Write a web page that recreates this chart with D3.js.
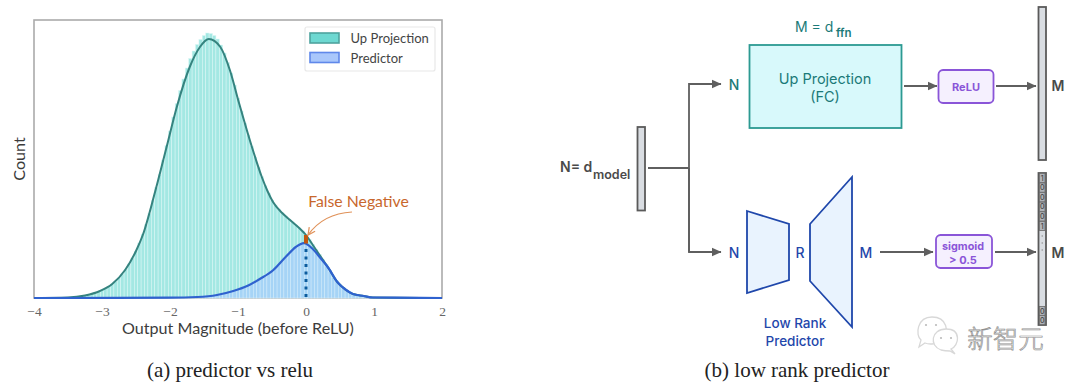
<!DOCTYPE html>
<html>
<head>
<meta charset="utf-8">
<script src="https://cdn.jsdelivr.net/npm/d3@7"></script>
<style>
html,body{margin:0;padding:0;background:#fff;overflow:hidden;}
svg{display:block;}
</style>
</head>
<body>
<script>
// histogram bins (centres, width 0.05) and counts
let binStarts = [-3.5,-3.45,-3.4,-3.35,-3.3,-3.25,-3.2,-3.15,-3.1,-3.05,-3,-2.95,-2.9,-2.85,-2.8,-2.75,-2.7,-2.65,-2.6,-2.55,-2.5,-2.45,-2.4,-2.35,-2.3,-2.25,-2.2,-2.15,-2.1,-2.05,-2,-1.95,-1.9,-1.85,-1.8,-1.75,-1.7,-1.65,-1.6,-1.55,-1.5,-1.45,-1.4,-1.35,-1.3,-1.25,-1.2,-1.15,-1.1,-1.05,-1,-0.95,-0.9,-0.85,-0.8,-0.75,-0.7,-0.65,-0.6,-0.55,-0.5,-0.45,-0.4,-0.35,-0.3,-0.25,-0.2,-0.15,-0.1,-0.05,0,0.05,0.1,0.15,0.2,0.25,0.3,0.35,0.4,0.45,0.5,0.55,0.6,0.65,0.7,0.75,0.8,0.85,0.9,0.95,1,1.05,1.1,1.15,1.2,1.25,1.3,1.35,1.4,1.45,1.5];
let upCounts = [5,8,10,14,20,28,35,44,55,66,80,98,118,140,168,200,240,288,340,400,470,550,640,735,845,975,1105,1235,1380,1525,1670,1810,1945,2075,2190,2300,2395,2470,2535,2585,2625,2650,2645,2625,2590,2530,2450,2355,2250,2130,2000,1870,1750,1630,1520,1410,1310,1215,1125,1050,980,930,890,850,820,790,760,730,700,670,630,585,535,485,435,385,335,278,220,172,135,105,80,60,45,34,26,20,15,12,9,7,6,5,4,3,3,2,2,1,1];
let predStarts = [-2,-1.95,-1.9,-1.85,-1.8,-1.75,-1.7,-1.65,-1.6,-1.55,-1.5,-1.45,-1.4,-1.35,-1.3,-1.25,-1.2,-1.15,-1.1,-1.05,-1,-0.95,-0.9,-0.85,-0.8,-0.75,-0.7,-0.65,-0.6,-0.55,-0.5,-0.45,-0.4,-0.35,-0.3,-0.25,-0.2,-0.15,-0.1,-0.05,0,0.05,0.1,0.15,0.2,0.25,0.3,0.35,0.4,0.45,0.5,0.55,0.6,0.65,0.7,0.75,0.8,0.85,0.9,0.95,1,1.05,1.1,1.15,1.2,1.25,1.3,1.35,1.4,1.45,1.5];
let predCounts = [3,3,4,4,5,6,7,8,10,12,15,18,22,26,30,37,45,54,65,75,85,97,110,127,145,165,185,207,230,252,275,302,330,370,410,450,490,515,535,548,545,525,490,450,410,370,320,265,205,165,130,102,78,58,44,33,25,19,14,11,9,7,6,5,4,3,3,2,2,1,1];

// density curves
let curveX = [-4,-3.5,-3.25,-3.03,-2.85,-2.66,-2.5,-2.4,-2.22,-2.05,-1.9,-1.71,-1.56,-1.43,-1.26,-1.12,-0.985,-0.8,-0.65,-0.56,-0.485,-0.35,-0.235,-0.1,0,0.1,0.2,0.33,0.46,0.58,0.69,0.85,0.98,1.3,2];
let upCurve = [0,5,25,70,140,280,470,630,1060,1510,1910,2310,2510,2590,2510,2280,1950,1520,1210,1060,960,850,780,700,630,530,430,300,160,85,40,20,5,3,0];
let predX = [-4,-2,-1.6,-1.31,-1.07,-0.85,-0.68,-0.48,-0.3,-0.15,-0.03,0.1,0.2,0.33,0.46,0.58,0.69,0.85,0.98,1.3,2];
let predCurve = [0,3,10,30,70,125,190,280,410,510,548,490,410,300,160,85,40,20,5,3,0];

let xTicks = [-4,-3,-2,-1,0,1,2];
let legendNames = ["Up Projection","Predictor"];
let cellBits = ["1","0","0","0","0","1"];

let svg = d3.select("body").append("svg").attr("width",1080).attr("height",384);

let x = d3.scaleLinear().domain([-4,2]).range([34,442]);
let y = d3.scaleLinear().domain([0,2780]).range([298,20]);
let binW = x(0.05)-x(0);

let chartFont = "Lato";
let diagFont = "Inter";

let chart = svg.append("g").attr("class","chart");

// frame goes under the curves, the blue line runs over its bottom edge
chart.append("rect")
     .attr("x",x(-4)).attr("y",y(2780))
     .attr("width",x(2)-x(-4)).attr("height",y(0)-y(2780))
     .attr("fill","none")
     .attr("stroke","#ababab")
     .attr("stroke-width",1.6);

// histograms
chart.selectAll("rect.up")
     .data(binStarts)
     .enter().append("rect")
     .attr("class","up")
     .attr("x",(d)=>x(d)-binW/2)
     .attr("y",(d,i)=>y(upCounts[i]))
     .attr("width",binW)
     .attr("height",(d,i)=>y(0)-y(upCounts[i]))
     .attr("fill","#a4e8e3")
     .attr("stroke","#dcf7f5")
     .attr("stroke-width",0.5);

chart.selectAll("rect.pred")
     .data(predStarts)
     .enter().append("rect")
     .attr("class","pred")
     .attr("x",(d)=>x(d)-binW/2)
     .attr("y",(d,i)=>y(predCounts[i]))
     .attr("width",binW)
     .attr("height",(d,i)=>y(0)-y(predCounts[i]))
     .attr("fill","#a6d4f6")
     .attr("stroke","#d6ecfb")
     .attr("stroke-width",0.5);

let line = d3.line().curve(d3.curveMonotoneX);

chart.append("path")
     .attr("fill","none")
     .attr("stroke","#35837f")
     .attr("stroke-width",2)
     .attr("d",line(curveX.map((d,i)=>[x(d),y(upCurve[i])])));

chart.append("path")
     .attr("fill","none")
     .attr("stroke","#2f62cf")
     .attr("stroke-width",2.2)
     .attr("d",line(predX.map((d,i)=>[x(d),y(predCurve[i])])));

// false negative marker
chart.append("line")
     .attr("x1",x(0)).attr("x2",x(0))
     .attr("y1",y(490)).attr("y2",y(0))
     .attr("stroke","#0b5c9e")
     .attr("stroke-width",3)
     .attr("stroke-dasharray","3,4.5");

chart.append("rect")
     .attr("x",x(0)-2).attr("width",4)
     .attr("y",y(630)).attr("height",y(545)-y(630))
     .attr("fill","#c2570f");

svg.append("defs").append("marker")
   .attr("id","fn").attr("viewBox","0 0 10 10").attr("refX",9).attr("refY",5)
   .attr("markerWidth",9).attr("markerHeight",9).attr("markerUnits","userSpaceOnUse").attr("orient","auto")
   .append("path").attr("d","M1,1L9,5L1,9").attr("fill","none").attr("stroke","#e0925a").attr("stroke-width",1.4);

chart.append("path")
     .attr("d","M352,212C333,213 318,221 308,235")
     .attr("fill","none")
     .attr("stroke","#e0925a")
     .attr("stroke-width",1.2)
     .attr("marker-end","url(#fn)");

chart.append("text")
     .attr("x",358.5).attr("y",207)
     .attr("text-anchor","middle")
     .attr("font-family",chartFont).attr("font-size",15.8)
     .attr("fill","#c8672c")
     .text("False Negative");

// axis
let xAxis = d3.axisBottom(x).tickValues(xTicks).tickSize(0).tickPadding(8)
              .tickFormat((d)=>d<0?"\u2212"+(-d):d);
let axisG = chart.append("g").attr("transform","translate(0,"+y(0)+")").call(xAxis);
axisG.select(".domain").remove();
axisG.selectAll("text")
     .attr("font-family","Liberation Serif").attr("font-size",13.5).attr("fill","#666");

chart.append("text")
     .attr("x",238).attr("y",334)
     .attr("text-anchor","middle")
     .attr("font-family",chartFont).attr("font-size",16.1)
     .attr("fill","#3c3c3c")
     .text("Output Magnitude (before ReLU)");

chart.append("text")
     .attr("transform","translate(25,159) rotate(-90)")
     .attr("text-anchor","middle")
     .attr("font-family",chartFont).attr("font-size",16.1)
     .attr("fill","#3c3c3c")
     .text("Count");

// legend
chart.append("rect")
     .attr("x",305).attr("y",27).attr("width",130).attr("height",44).attr("rx",2)
     .attr("fill","#fff").attr("stroke","#e8e8e8").attr("stroke-width",1.2);

let legendFill = ["#6dd8d1","#a9c7fb"];
let legendStroke = ["#4ea39e","#5f88ea"];
let legendG = chart.selectAll("g.leg")
     .data(legendNames)
     .enter().append("g")
     .attr("class","leg")
     .attr("transform",(d,i)=>"translate(0,"+(i*19.5)+")");
legendG.append("rect")
     .attr("x",310).attr("y",33).attr("width",29).attr("height",10)
     .attr("fill",(d,i)=>legendFill[i])
     .attr("stroke",(d,i)=>legendStroke[i])
     .attr("stroke-width",1.6);
legendG.append("text")
     .attr("x",350.5).attr("y",43)
     .attr("font-family",chartFont).attr("font-size",13)
     .attr("fill","#444")
     .text((d)=>d);

// captions
let captions = [["(a) predictor vs relu",230],["(b) low rank predictor",797]];
svg.selectAll("text.cap")
   .data(captions)
   .enter().append("text")
   .attr("class","cap")
   .attr("x",(d)=>d[1]).attr("y",377)
   .attr("text-anchor","middle")
   .attr("font-family","Liberation Serif").attr("font-size",21)
   .attr("fill","#222")
   .text((d)=>d[0]);

// right panel: block diagram
let diag = svg.append("g").attr("class","diagram");
let grey = "#5f5f5f";
let teal = "#1b7a78";
let blue = "#1f47ab";
let purple = "#8a55d8";

diag.append("defs").append("marker")
    .attr("id","head").attr("viewBox","0 0 10 10").attr("refX",9.5).attr("refY",5)
    .attr("markerWidth",10).attr("markerHeight",10).attr("markerUnits","userSpaceOnUse").attr("orient","auto")
    .append("path").attr("d","M0,0.5L10,5L0,9.5Z").attr("fill",grey);

function link(d,arrow){
  diag.append("path")
      .attr("d",d)
      .attr("fill","none")
      .attr("stroke",grey)
      .attr("stroke-width",1.8)
      .attr("marker-end",arrow?"url(#head)":null);
}
function label(t,px,py,size,color,weight,anchor){
  return diag.append("text")
      .attr("x",px).attr("y",py)
      .attr("text-anchor",anchor||"middle")
      .attr("font-family",diagFont)
      .attr("font-size",size)
      .attr("font-weight",weight||500)
      .attr("fill",color)
      .text(t);
}
function vec(px,py,w,h){
  diag.append("rect")
      .attr("x",px).attr("y",py).attr("width",w).attr("height",h)
      .attr("fill","#d9dde2").attr("stroke","#5a5a5a").attr("stroke-width",1.8);
}
function pill(px,py,w,h){
  diag.append("rect")
      .attr("x",px).attr("y",py).attr("width",w).attr("height",h).attr("rx",4.5)
      .attr("fill","#f5f0fe").attr("stroke",purple).attr("stroke-width",1.8);
}

vec(637.5,127,7.5,83.5);
link("M648,168H689");
link("M689,252V84H721",true);
link("M689,168V252H721",true);

label("N= d",560,172,14,"#4a4a4a",600,"start");
label("model",593,179,12.5,"#4a4a4a",600,"start");

label("N",734,90,14,teal);
label("N",734,258,14,blue);

// up projection branch
diag.append("rect")
    .attr("x",749.5).attr("y",45).attr("width",152).attr("height",83)
    .attr("fill","#d8f9fb").attr("stroke","#2c9a92").attr("stroke-width",1.8);
label("Up Projection",825,84,14.5,teal,400);
label("(FC)",825,102,14.5,teal,400);
label("M = d",795,32,14,teal,400,"start");
label("ffn",836,37,11.5,teal,600,"start");

link("M904,86H937",true);
pill(938.5,70,55,33);
label("ReLU",966,90.5,11,purple,700);
link("M996,86H1036",true);
vec(1038.5,7,7.5,153);
label("M",1058,91,14,"#4a4a4a",600);

// low rank predictor branch
let trapA = [[747,211],[789,224],[789,280],[747,293]];
let trapB = [[810,224],[852,177],[852,327],[810,281]];
diag.selectAll("polygon")
    .data([trapA,trapB])
    .enter().append("polygon")
    .attr("points",(d)=>d.join(" "))
    .attr("fill","#e9f3fe")
    .attr("stroke",blue)
    .attr("stroke-width",1.8);

label("R",800,258,14,blue);
label("M",866,258,14,blue);
label("Low Rank",795,328,13.5,blue);
label("Predictor",795,346,13.5,blue);

link("M880,252H933",true);
pill(936,235,56,33);
label("sigmoid",963,250,10.8,purple,700);
label("> 0.5",963,263.5,11,purple,700);
link("M995,252H1036",true);
vec(1038.5,173,7.5,152);

// sparse output cells
let cellY = d3.scalePoint().domain(d3.range(cellBits.length)).range([178,226]);
cellBits.forEach((b,i)=>{
  diag.append("rect").attr("x",1039.5).attr("y",cellY(i)-4.6).attr("width",5.5).attr("height",9.2)
      .attr("fill","#b0b3b8").attr("stroke","#6a6a6a").attr("stroke-width",0.8);
  label(b,1042.2,cellY(i)+2.6,7,"#444",500);
});
[311,320].forEach((c)=>{
  diag.append("rect").attr("x",1039.5).attr("y",c-4.6).attr("width",5.5).attr("height",9.2)
      .attr("fill","#b0b3b8").attr("stroke","#6a6a6a").attr("stroke-width",0.8);
  label("0",1042.2,c+2.6,7,"#444",500);
});
[236,243,250].forEach((c)=>{
  diag.append("circle").attr("cx",1042.2).attr("cy",c).attr("r",0.7).attr("fill","#888");
});
label("M",1058,258,14,"#4a4a4a",600);

// watermark
let wm = svg.append("g").attr("class","watermark");
wm.append("path")
  .attr("d","M921,340C915,335 917,317 932,317C947,317 950,332 942,340C937,344 930,345 925,343L919,347Z")
  .attr("fill","#fff").attr("stroke","#d8d8d8").attr("stroke-width",1.3);
wm.append("path")
  .attr("d","M951,349C959,346 962,329 946,329C931,329 929,346 941,350C945,351 948,351 950,351L955,354Z")
  .attr("fill","#fff").attr("stroke","#d8d8d8").attr("stroke-width",1.3);
[[926,325],[936,325],[941,338],[951,338]].forEach((p)=>{
  wm.append("circle").attr("cx",p[0]).attr("cy",p[1]).attr("r",1.1).attr("fill","#bbb");
});
wm.append("text")
  .attr("x",1005.5).attr("y",348)
  .attr("text-anchor","middle")
  .attr("font-family","Noto Sans CJK SC").attr("font-size",25.5).attr("font-weight",300)
  .attr("fill","#fff").attr("stroke","#8f8f8f").attr("stroke-width",0.7)
  .text("新智元");
</script>
</body>
</html>
